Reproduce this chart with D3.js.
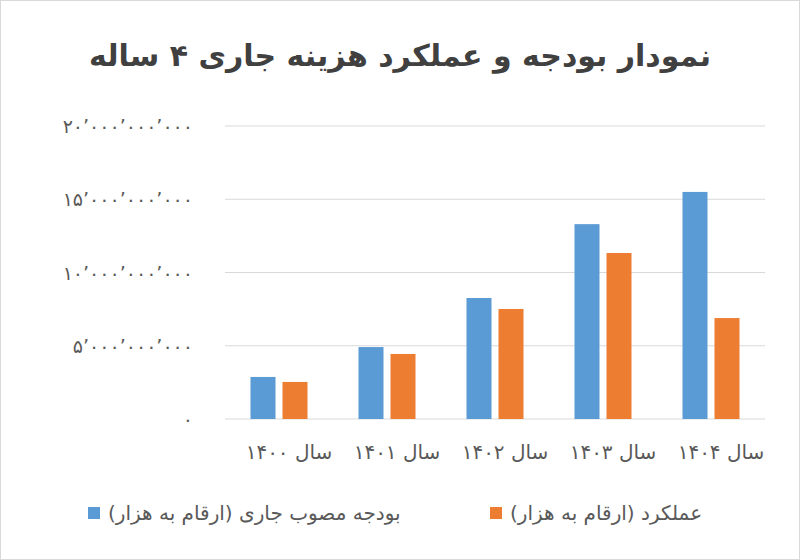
<!DOCTYPE html><html><head><meta charset="utf-8"><script src="https://d3js.org/d3.v7.min.js"></script>
<style>body{margin:0;background:#fff}text{font-family:"DejaVu Sans",sans-serif}</style></head><body><svg id="c" width="800" height="560"></svg>
<script>
const categories=["سال ۱۴۰۰","سال ۱۴۰۱","سال ۱۴۰۲","سال ۱۴۰۳","سال ۱۴۰۴"];
const budget=[2.87e9,4.91e9,8.26e9,13.3e9,15.5e9];
const actual=[2.53e9,4.44e9,7.51e9,11.33e9,6.89e9];
const tickValues=[0,5e9,10e9,15e9,20e9];
const tickLabels=["۰","۵’۰۰۰’۰۰۰’۰۰۰","۱۰’۰۰۰’۰۰۰’۰۰۰","۱۵’۰۰۰’۰۰۰’۰۰۰","۲۰’۰۰۰’۰۰۰’۰۰۰"];
const seriesNames=["بودجه مصوب جاری (ارقام به هزار)","عملکرد (ارقام به هزار)"];
const colors=["#5b9bd5","#ed7d31"];
const svg=d3.select("#c");
svg.append("rect").attr("x",0.5).attr("y",0.5).attr("width",799).attr("height",559).attr("fill","#fff").attr("stroke","#d9d9d9");
svg.append("text").attr("x",400).attr("y",66).attr("text-anchor","middle").attr("font-size",30).attr("font-weight","bold").attr("fill","#404040").attr("direction","rtl").text("نمودار بودجه و عملکرد هزینه جاری ۴ ساله");
const x=d3.scaleBand().domain(categories).range([225,765]);
const y=d3.scaleLinear().domain([0,20e9]).range([419,126]);
const g=svg.append("g");
g.selectAll("line.grid").data(tickValues).join("line").attr("x1",225).attr("x2",765).attr("y1",d=>y(d)).attr("y2",d=>y(d)).attr("stroke","#d9d9d9");
g.selectAll("text.yt").data(tickValues).join("text").attr("x",193).attr("y",d=>y(d)+7).attr("text-anchor","end").attr("font-size",19).attr("fill","#595959").text((d,i)=>tickLabels[i]);
const bw=25;
[budget,actual].forEach((s,k)=>{
 g.selectAll(null).data(s).join("rect").attr("x",(d,i)=>x(categories[i])+x.bandwidth()/2+(k===0?-bw-3.5:3.5)).attr("width",bw).attr("y",d=>y(d)).attr("height",d=>y(0)-y(d)).attr("fill",colors[k]);
});
g.selectAll("text.xt").data(categories).join("text").attr("x",d=>x(d)+x.bandwidth()/2+10).attr("y",459).attr("text-anchor","middle").attr("font-size",20).attr("fill","#595959").attr("direction","rtl").text(d=>d);
const lx=[88,490];
seriesNames.forEach((n,k)=>{
 svg.append("rect").attr("x",lx[k]).attr("y",507).attr("width",12).attr("height",12).attr("fill",colors[k]);
 svg.append("text").attr("x",lx[k]+20).attr("y",520).attr("font-size",20).attr("fill","#595959").attr("direction","rtl").attr("text-anchor","end").text(n);
});
</script></body></html>
